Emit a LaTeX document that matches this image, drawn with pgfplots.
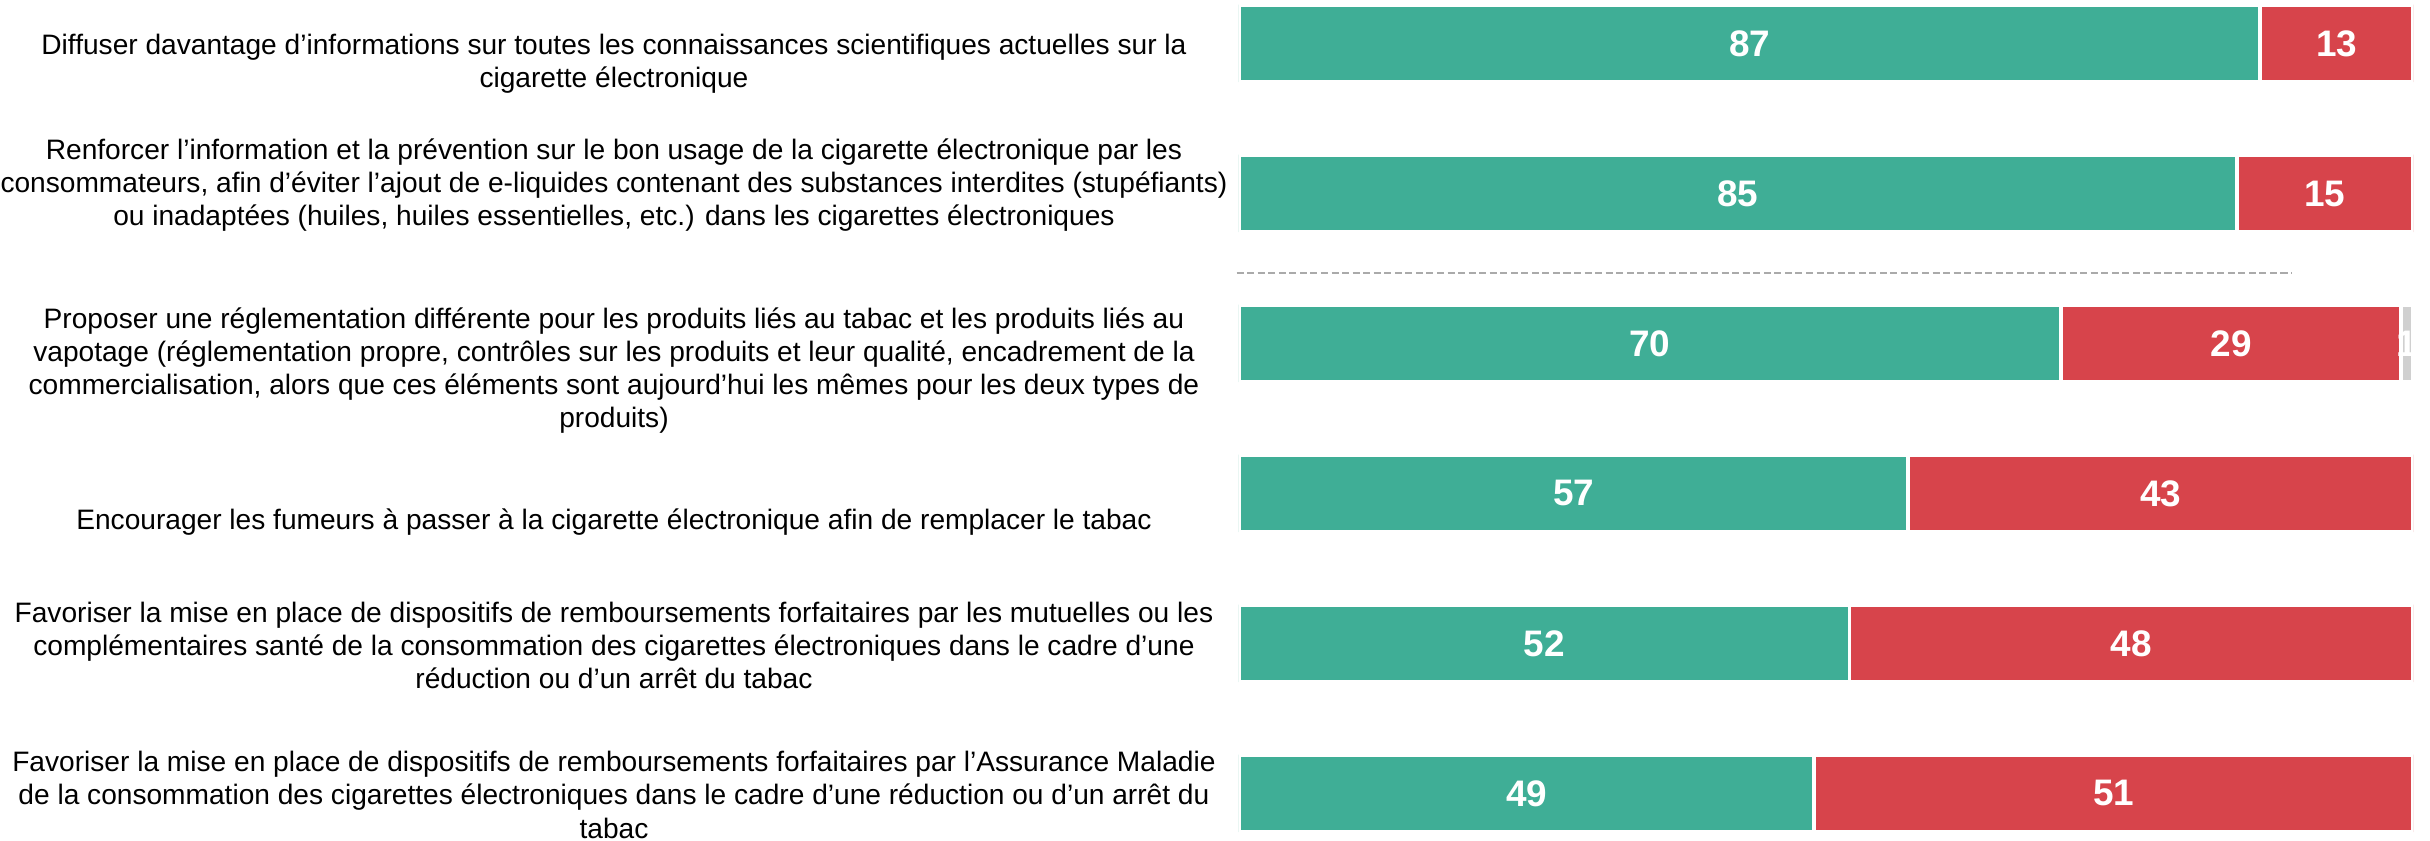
\documentclass[border=0pt]{standalone}
\usepackage{fontspec}
\setmainfont{Liberation Sans}
\usepackage{pgfplots}
\usepackage{pgfplotstable}
\pgfplotsset{compat=1.18}

\definecolor{oui}{HTML}{3FAE96}
\definecolor{non}{HTML}{D7444B}
\definecolor{nsp}{HTML}{D0D0D0}
\definecolor{sep}{HTML}{AAAAAA}

\tikzset{lab/.style={align=center, inner sep=0pt, font=\fontsize{8}{9.39}\selectfont, xshift=-6.25cm}}

% idx: row from top; labels as symbolic meta (empty = no label)
\pgfplotstableread{
idx oui non nsp loui lnon lnsp
0   87  13  0   87   13   {}
1   85  15  0   85   15   {}
2   70  29  1   70   29   1
3   57  43  0   57   43   {}
4   52  48  0   52   48   {}
5   49  51  0   49   51   {}
}\data

\begin{document}
\begin{tikzpicture}
\useasboundingbox (-12.39cm,0) rectangle (11.91cm,8.41cm);
\begin{axis}[
  name=ax,
  at={(0,0)}, anchor=south west,
  scale only axis,
  width=11.74cm, height=8.41cm,
  xbar stacked,
  bar width=0.775cm,
  xmin=0, xmax=100,
  ymin=-0.29, ymax=5.317,
  y dir=reverse,
  hide axis,
  point meta=explicit symbolic,
  nodes near coords={\pgfplotspointmeta},
  every node near coord/.append style={font=\fontsize{10.5}{12}\selectfont\bfseries, text=white},
]
\addplot[fill=oui, draw=white, line width=1.1pt] table[x=oui, y=idx, meta=loui] {\data};
\addplot[fill=non, draw=white, line width=1.1pt] table[x=non, y=idx, meta=lnon] {\data};
\addplot[fill=nsp, draw=white, line width=1.1pt] table[x=nsp, y=idx, meta=lnsp] {\data};
\end{axis}
% separator and category texts
\begin{axis}[
  scale only axis, at={(0,0)}, anchor=south west,
  width=11.74cm, height=8.41cm,
  xmin=0, xmax=100, ymin=-0.29, ymax=5.317, y dir=reverse,
  hide axis, clip=false,
]
\addplot[sep, line width=0.6pt, dash pattern=on 2pt off 1pt] coordinates {(-0.2,1.528) (89.7,1.528)};
\node[lab] at (axis cs:0,0.133) {Diffuser davantage d’informations sur toutes les connaissances scientifiques actuelles sur la\\cigarette électronique};
\node[lab] at (axis cs:0,0.943) {Renforcer l’information et la prévention sur le bon usage de la cigarette électronique par les\\consommateurs, afin d’éviter l’ajout de e-liquides contenant des substances interdites (stupéfiants)\\ou inadaptées (huiles, huiles essentielles, etc.) dans les cigarettes électroniques};
\node[lab] at (axis cs:0,2.18) {Proposer une réglementation différente pour les produits liés au tabac et les produits liés au\\vapotage (réglementation propre, contrôles sur les produits et leur qualité, encadrement de la\\commercialisation, alors que ces éléments sont aujourd’hui les mêmes pour les deux types de\\produits)};
\node[lab] at (axis cs:0,3.19) {Encourager les fumeurs à passer à la cigarette électronique afin de remplacer le tabac};
\node[lab] at (axis cs:0,4.01) {Favoriser la mise en place de dispositifs de remboursements forfaitaires par les mutuelles ou les\\complémentaires santé de la consommation des cigarettes électroniques dans le cadre d’une\\réduction ou d’un arrêt du tabac};
\node[lab] at (axis cs:0,5.01) {Favoriser la mise en place de dispositifs de remboursements forfaitaires par l’Assurance Maladie\\de la consommation des cigarettes électroniques dans le cadre d’une réduction ou d’un arrêt du\\tabac};
\end{axis}
\end{tikzpicture}
\end{document}
